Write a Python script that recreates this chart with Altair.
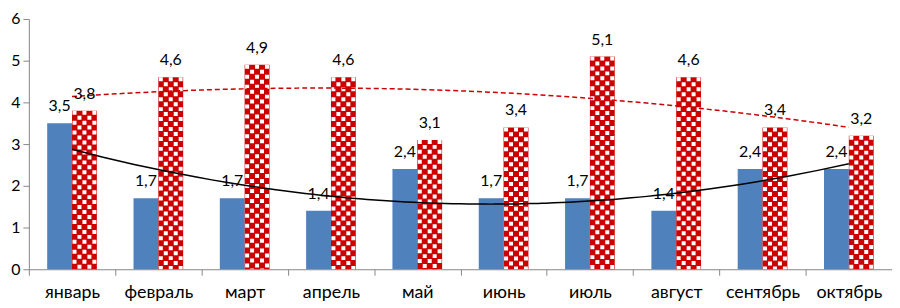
import altair as alt
import pandas as pd

months = ["январь", "февраль", "март", "апрель", "май", "июнь", "июль", "август", "сентябрь", "октябрь"]
series_blue = [3.5, 1.7, 1.7, 1.4, 2.4, 1.7, 1.7, 1.4, 2.4, 2.4]
series_red = [3.8, 4.6, 4.9, 4.6, 3.1, 3.4, 5.1, 4.6, 3.4, 3.2]
y_ticks = [0, 1, 2, 3, 4, 5, 6]


def fmt(v):
    return f"{v:.1f}".replace(".", ",")


df = pd.DataFrame({
    "month": months,
    "idx": list(range(len(months))),
    "blue": series_blue,
    "red": series_red,
    "blue_lbl": [fmt(v) for v in series_blue],
    "red_lbl": [fmt(v) for v in series_red],
})

FONT = "Lato"
BLUE = "#4F81BD"
RED = "#CC0000"
AXIS_GRAY = "#868686"
BAR_W = 25

band_scale = alt.Scale(paddingInner=0, paddingOuter=0)
x_band = alt.X(
    "month:N", sort=months, scale=band_scale,
    axis=alt.Axis(title=None, labelAngle=0, tickBand="extent", tickSize=6,
                  labelPadding=8, labelFont=FONT, labelFontSize=18,
                  labelColor="black", domainColor=AXIS_GRAY, tickColor=AXIS_GRAY,
                  labelBaseline="top"),
)
x_band_plain = alt.X("month:N", sort=months, scale=band_scale, axis=None)
y_scale = alt.Scale(domain=[0, 6], nice=False, zero=True)
y_axis = alt.Axis(values=y_ticks, title=None, grid=False, tickSize=6, labelPadding=3,
                  labelFont=FONT, labelFontSize=16, labelColor="black",
                  domainColor=AXIS_GRAY, tickColor=AXIS_GRAY)

base = alt.Chart(df)

blue_bars = base.mark_bar(color=BLUE, width=BAR_W, xOffset=-BAR_W / 2).encode(
    x=x_band, y=alt.Y("blue:Q", scale=y_scale, axis=y_axis)
)
red_bars = base.mark_bar(color=RED, width=BAR_W, xOffset=BAR_W / 2).encode(
    x=x_band, y=alt.Y("red:Q", scale=y_scale)
)

pattern_layers = []
for c in range(5):
    pattern_layers.append(
        base.mark_rule(color="white", strokeWidth=4, strokeDash=[4, 6],
                       strokeDashOffset=0 if c % 2 == 0 else 5,
                       xOffset=2.5 + 5 * c).encode(
            x=x_band, y=alt.Y("red:Q", scale=y_scale), y2=alt.datum(0)
        )
    )

blue_text = base.mark_text(font=FONT, fontSize=16, color="black", baseline="alphabetic",
                           dy=-12, xOffset=-BAR_W / 2).encode(
    x=x_band_plain, y=alt.Y("blue:Q", scale=y_scale), text="blue_lbl:N"
)
red_text = base.mark_text(font=FONT, fontSize=16, color="black", baseline="alphabetic",
                          dy=-12, xOffset=BAR_W / 2).encode(
    x=x_band_plain, y=alt.Y("red:Q", scale=y_scale), text="red_lbl:N"
)

band_layer = alt.layer(blue_bars, red_bars, *pattern_layers)
label_layer = alt.layer(blue_text, red_text)

x_q = alt.X("idx:Q", scale=alt.Scale(domain=[-0.5, 9.5], nice=False, zero=False), axis=None)

trend_blue = base.transform_regression(
    "idx", "blue", method="poly", order=2, extent=[0, 9]
).mark_line(color="black", strokeWidth=1.5).encode(
    x=x_q, y=alt.Y("blue:Q", scale=y_scale)
)
trend_red = base.transform_regression(
    "idx", "red", method="poly", order=2, extent=[0, 9]
).mark_line(color=RED, strokeWidth=1.5, strokeDash=[5, 3]).encode(
    x=x_q, y=alt.Y("red:Q", scale=y_scale)
)
trend_layer = alt.layer(trend_blue, trend_red)

chart = alt.layer(
    band_layer, trend_layer, label_layer
).resolve_scale(x="independent").properties(
    width=869, height=252,
    autosize=alt.AutoSizeParams(type="none"),
    padding={"left": 21, "top": 10, "right": 0, "bottom": 38},
).configure_view(stroke=None)

chart.save("out.html", embed_options={"renderer": "svg", "actions": False})
